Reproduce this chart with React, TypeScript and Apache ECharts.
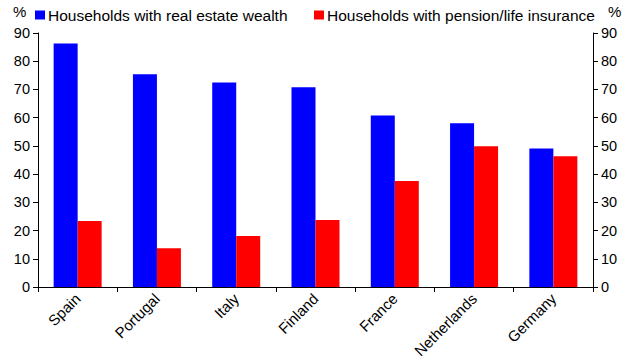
import React, { useEffect, useRef } from "react";
import * as echarts from "echarts";

const categories = ["Spain", "Portugal", "Italy", "Finland", "France", "Netherlands", "Germany"];
const realEstate = [86.3, 75.4, 72.5, 70.8, 60.8, 58.0, 49.1];
const pension = [23.4, 13.7, 18.1, 23.7, 37.6, 49.9, 46.3];
const seriesNames = ["Households with real estate wealth", "Households with pension/life insurance"];

const FONT = "Liberation Sans, Arial, sans-serif";

export default function App() {
  const ref = useRef<HTMLDivElement>(null);
  useEffect(() => {
    if (!ref.current) return;
    const chart = echarts.init(ref.current, null, { renderer: "svg" });
    const yAxisCommon = {
      type: "value" as const,
      min: 0,
      max: 90,
      interval: 10,
      splitLine: { show: false },
      axisLine: { show: true, lineStyle: { color: "#000", width: 1 } },
      axisTick: { show: true, length: 5, lineStyle: { color: "#000" } },
      axisLabel: { color: "#000", fontSize: 14.5, fontFamily: FONT, margin: 8 },
    };
    chart.setOption({
      animation: false,
      textStyle: { fontFamily: FONT },
      grid: { left: 38, right: 41, top: 33, bottom: 73, containLabel: false, outerBoundsMode: "none" },
      legend: [
        {
          data: [seriesNames[0]],
          left: 30,
          top: 2,
          itemWidth: 10,
          itemHeight: 9,
          icon: "rect",
          textStyle: { fontSize: 15.5, color: "#000", fontFamily: FONT, padding: [0, 0, 0, -2] },
        },
        {
          data: [seriesNames[1]],
          left: 309,
          top: 2,
          itemWidth: 10,
          itemHeight: 9,
          icon: "rect",
          textStyle: { fontSize: 15.5, color: "#000", fontFamily: FONT, padding: [0, 0, 0, -2] },
        },
      ],
      graphic: [
        { type: "text", left: 13, top: 4, style: { text: "%", fontSize: 15, fill: "#000", fontFamily: FONT } },
        { type: "text", left: 608, top: 4, style: { text: "%", fontSize: 15, fill: "#000", fontFamily: FONT } },
      ],
      xAxis: {
        type: "category",
        data: categories,
        boundaryGap: true,
        axisLine: { show: true, lineStyle: { color: "#000", width: 1 } },
        axisTick: { show: true, length: 5, lineStyle: { color: "#000" } },
        axisLabel: { rotate: 45, color: "#000", fontSize: 15, fontFamily: FONT, margin: 9, interval: 0 },
      },
      yAxis: [
        { ...yAxisCommon, position: "left" },
        { ...yAxisCommon, position: "right" },
      ],
      series: [
        {
          name: seriesNames[0],
          type: "bar",
          data: realEstate,
          barWidth: 24,
          barGap: "0%",
          itemStyle: { color: "#0000FF" },
        },
        {
          name: seriesNames[1],
          type: "bar",
          data: pension,
          barWidth: 24,
          barGap: "0%",
          itemStyle: { color: "#FF0000" },
        },
      ],
    });
    return () => chart.dispose();
  }, []);
  return <div ref={ref} style={{ width: 634, height: 360, position: "absolute", left: 0, top: 0 }} />;
}
